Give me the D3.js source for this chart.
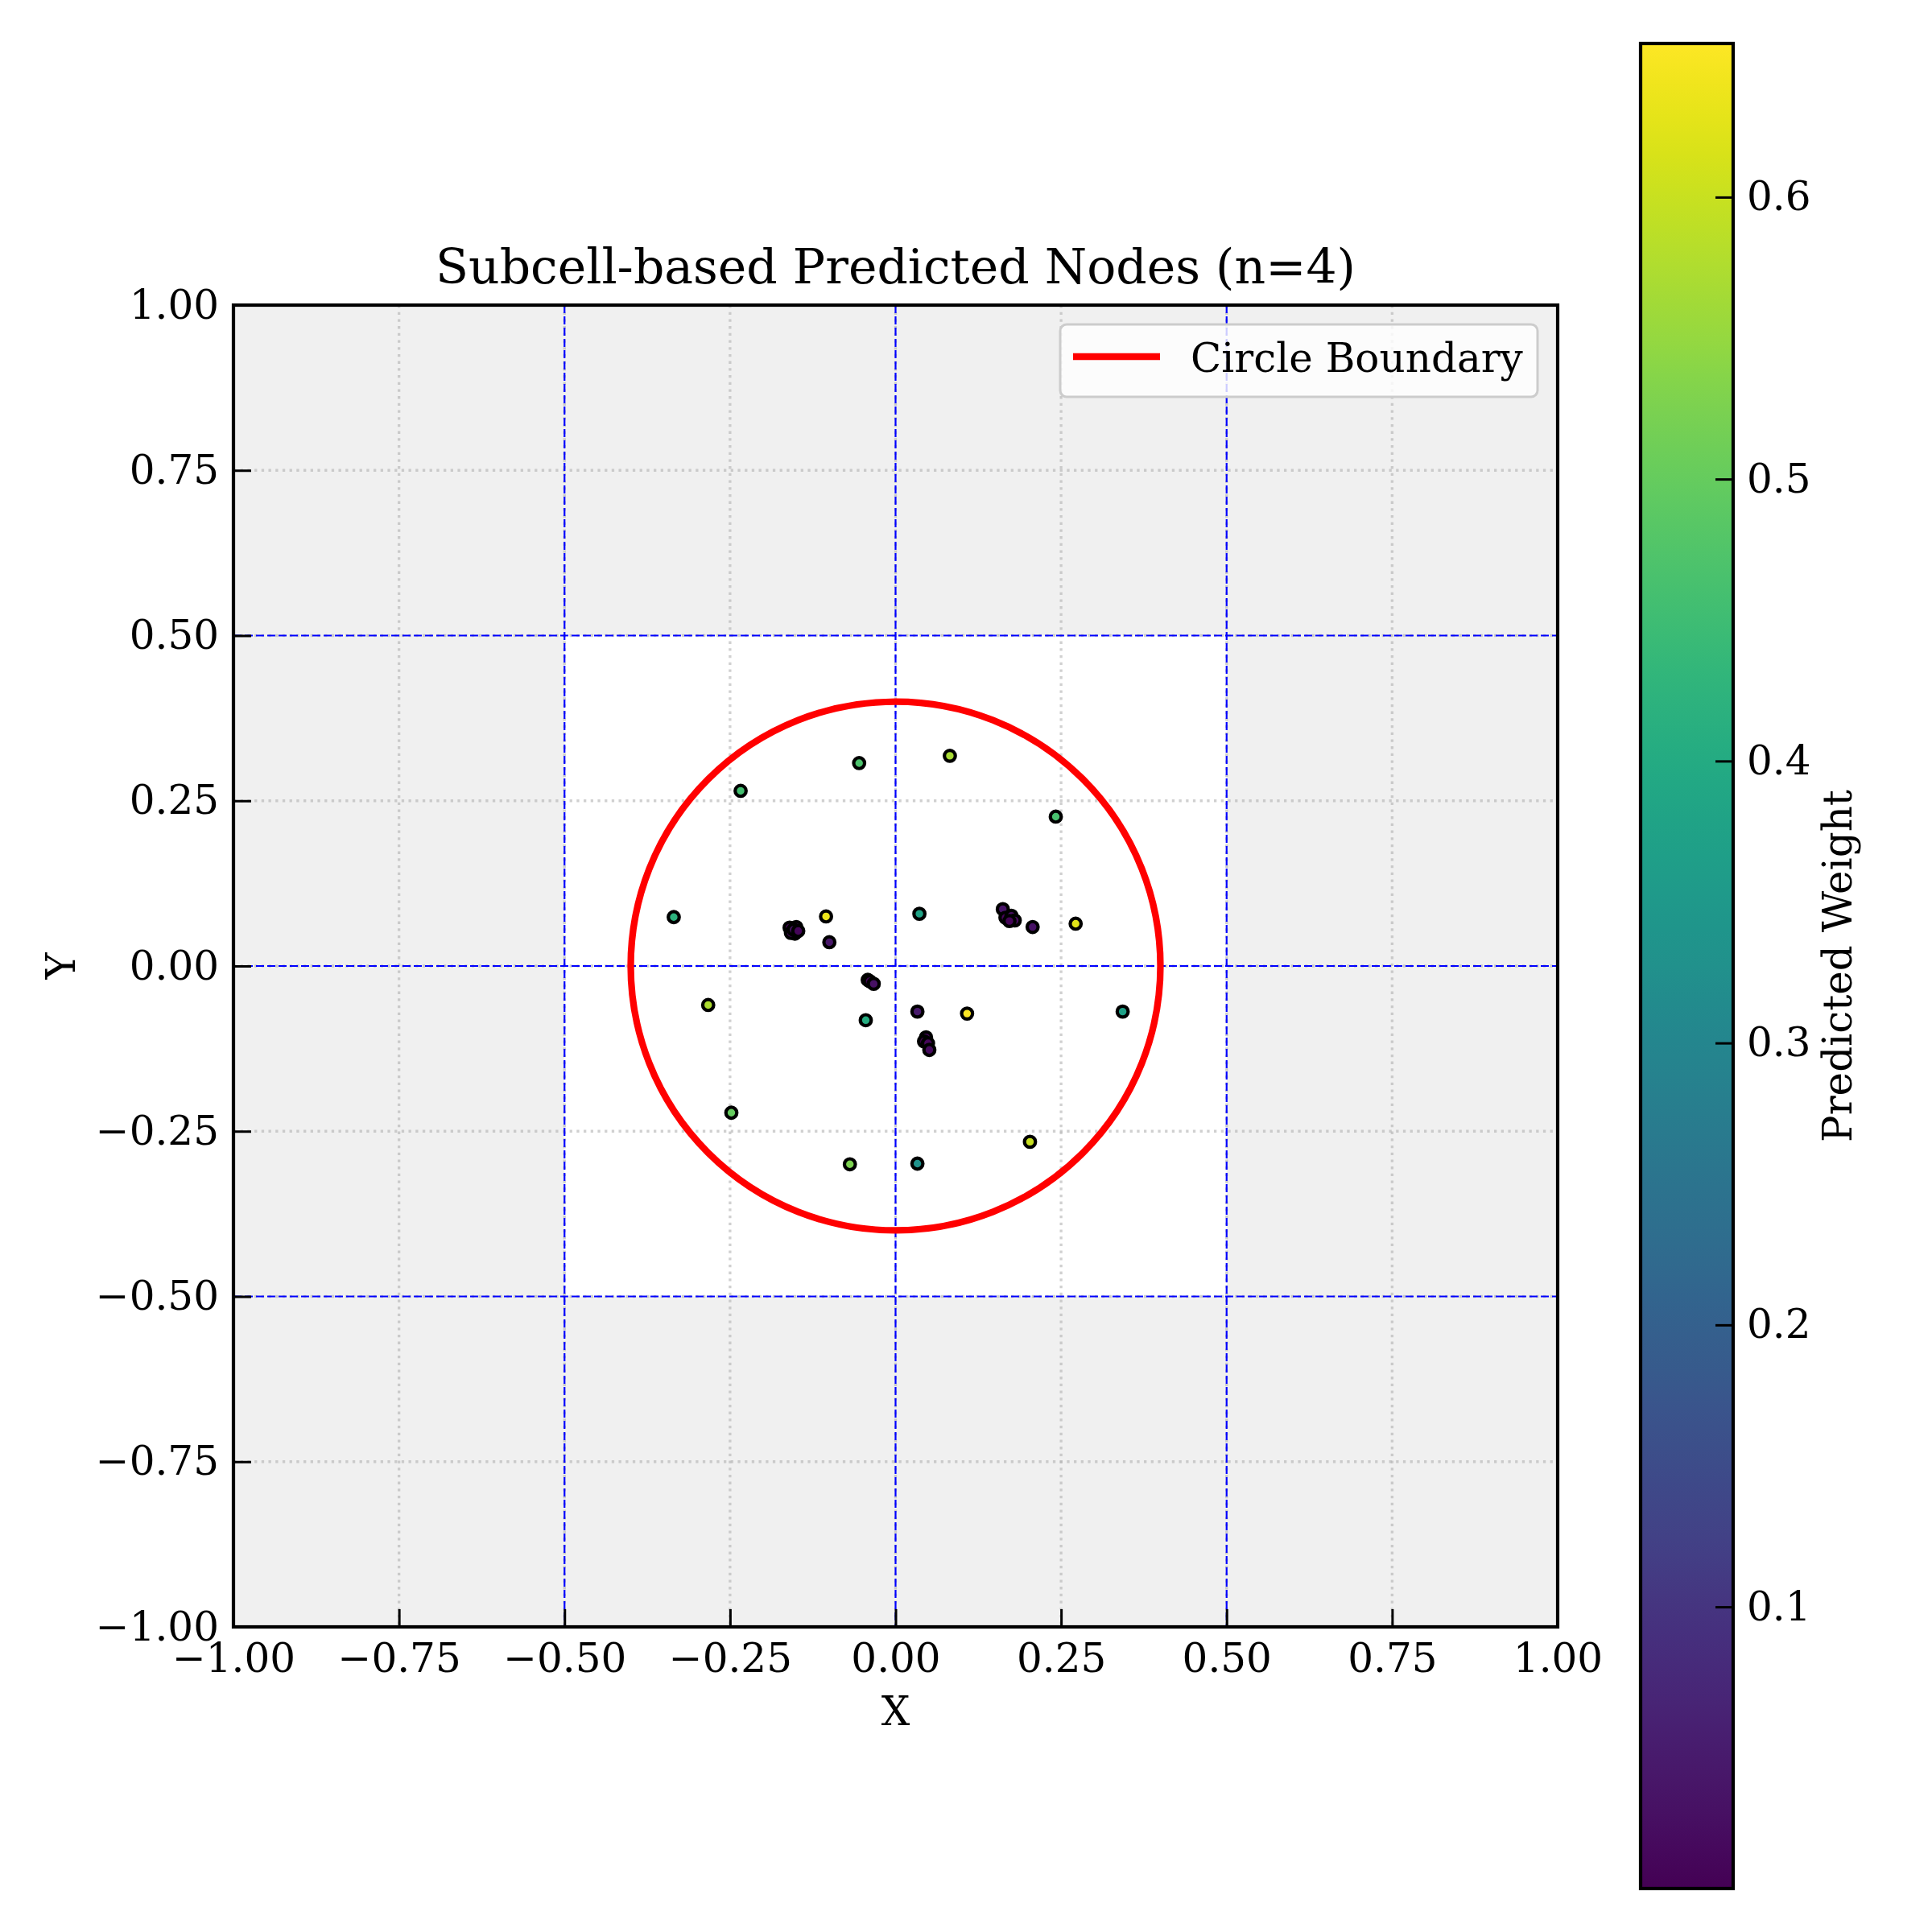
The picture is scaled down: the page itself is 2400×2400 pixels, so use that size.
<!DOCTYPE html>
<html>
<head>
<meta charset="utf-8">
<script src="https://cdn.jsdelivr.net/npm/d3@7"></script>
<style>
  body { margin: 0; background: #fff; }
  text { font-family: "DejaVu Serif", serif; fill: #000; }
</style>
</head>
<body>
<svg id="chart" width="2400" height="2400"></svg>
<script>
// data
const axisTicks = [-1, -0.75, -0.5, -0.25, 0, 0.25, 0.5, 0.75, 1];
const subcellLines = [-0.5, 0, 0.5];
const innerDomain = [-0.5, 0.5];
const cbarTicks = [0.1, 0.2, 0.3, 0.4, 0.5, 0.6];
const circleRadius = 0.4;

const nodeX = [
  -0.055, 0.082, -0.234, 0.242, -0.335, -0.105, 0.036, 0.272,
  -0.283, -0.045, 0.108, 0.343, -0.248, 0.203, -0.069, 0.033,
  -0.160, -0.150, -0.152, -0.158, -0.154, -0.147, -0.100,
  0.162, 0.166, 0.175, 0.180, 0.172, 0.207,
  -0.042, -0.039, -0.033, 0.033,
  0.046, 0.043, 0.049, 0.051
];
const nodeY = [
  0.307, 0.318, 0.265, 0.226, 0.074, 0.075, 0.079, 0.064,
  -0.059, -0.082, -0.072, -0.069, -0.222, -0.266, -0.300, -0.299,
  0.058, 0.059, 0.049, 0.050, 0.055, 0.053, 0.036,
  0.086, 0.073, 0.076, 0.069, 0.068, 0.059,
  -0.021, -0.023, -0.027, -0.069,
  -0.108, -0.114, -0.117, -0.127
];
const nodeWeight = [
  0.47, 0.57, 0.46, 0.465, 0.42, 0.635, 0.38, 0.625,
  0.575, 0.405, 0.6545, 0.375, 0.50, 0.60, 0.525, 0.33,
  0.012, 0.02, 0.008, 0.015, 0.03, 0.01, 0.04,
  0.035, 0.01, 0.025, 0.018, 0.006, 0.03,
  0.015, 0.005, 0.03, 0.045,
  0.01, 0.0001, 0.012, 0.02
];

const svg = d3.select("#chart");
svg.append("rect").attr("width", 2400).attr("height", 2400).attr("fill", "#fff");

const pLeft = 290, pRight = 1935, pTop = 379, pBottom = 2021;
const x = d3.scaleLinear().domain([-1, 1]).range([pLeft, pRight]);
const y = d3.scaleLinear().domain([-1, 1]).range([pBottom, pTop]);

const color = d3.scaleSequential(d3.interpolateViridis).domain(d3.extent(nodeWeight));

const defs = svg.append("defs");
defs.append("clipPath").attr("id", "plotclip")
  .append("rect").attr("x", pLeft).attr("y", pTop)
  .attr("width", pRight - pLeft).attr("height", pBottom - pTop);

const plot = svg.append("g").attr("clip-path", "url(#plotclip)");

// background + white inner domain
plot.append("rect")
  .attr("x", pLeft).attr("y", pTop)
  .attr("width", pRight - pLeft).attr("height", pBottom - pTop)
  .attr("fill", "#f0f0f0");
plot.append("rect")
  .attr("x", x(innerDomain[0])).attr("y", y(innerDomain[1]))
  .attr("width", x(innerDomain[1]) - x(innerDomain[0]))
  .attr("height", y(innerDomain[0]) - y(innerDomain[1]))
  .attr("fill", "#fff");

// dotted grid
const grid = plot.append("g")
  .attr("stroke", "#b0b0b0").attr("stroke-opacity", 0.6)
  .attr("stroke-width", 3.3).attr("stroke-dasharray", "3.3,5.4");
grid.selectAll(".gx").data(axisTicks).enter().append("line")
  .attr("x1", d => x(d)).attr("x2", d => x(d))
  .attr("y1", pTop).attr("y2", pBottom);
grid.selectAll(".gy").data(axisTicks).enter().append("line")
  .attr("y1", d => y(d)).attr("y2", d => y(d))
  .attr("x1", pLeft).attr("x2", pRight);

// subcell boundaries (blue dashed)
const sub = plot.append("g")
  .attr("stroke", "#0000ff").attr("stroke-width", 2.2)
  .attr("stroke-dasharray", "10,4");
sub.selectAll(".sx").data(subcellLines).enter().append("line")
  .attr("x1", d => x(d)).attr("x2", d => x(d))
  .attr("y1", pTop).attr("y2", pBottom);
sub.selectAll(".sy").data(subcellLines).enter().append("line")
  .attr("y1", d => y(d)).attr("y2", d => y(d))
  .attr("x1", pLeft).attr("x2", pRight);

// circle boundary
plot.append("ellipse")
  .attr("cx", x(0)).attr("cy", y(0))
  .attr("rx", x(circleRadius) - x(0))
  .attr("ry", y(0) - y(circleRadius))
  .attr("fill", "none").attr("stroke", "#ff0000").attr("stroke-width", 8.3);

// nodes
const nodes = nodeX.map((d, i) => ({ x: d, y: nodeY[i], w: nodeWeight[i] }));
plot.append("g").selectAll("circle").data(nodes).enter().append("circle")
  .attr("cx", d => x(d.x)).attr("cy", d => y(d.y))
  .attr("r", 6.8)
  .attr("fill", d => color(d.w))
  .attr("stroke", "#000").attr("stroke-width", 4.2);

// axes (ticks inside)
const fmt = d3.format(".2f");
const xAxis = svg.append("g").attr("transform", `translate(0,${pBottom})`)
  .call(d3.axisBottom(x).tickValues(axisTicks).tickFormat(fmt)
    .tickSizeInner(-22).tickSizeOuter(0).tickPadding(20));
const yAxis = svg.append("g").attr("transform", `translate(${pLeft},0)`)
  .call(d3.axisLeft(y).tickValues(axisTicks).tickFormat(fmt)
    .tickSizeInner(-22).tickSizeOuter(0).tickPadding(18));
[xAxis, yAxis].forEach(a => {
  a.select(".domain").remove();
  a.selectAll(".tick line").attr("stroke", "#000").attr("stroke-width", 3);
  a.selectAll(".tick text").attr("font-size", 50).attr("font-family", "DejaVu Serif");
});

// spines
svg.append("rect")
  .attr("x", pLeft).attr("y", pTop)
  .attr("width", pRight - pLeft).attr("height", pBottom - pTop)
  .attr("fill", "none").attr("stroke", "#000").attr("stroke-width", 4.2);

// title and labels
svg.append("text")
  .attr("x", (pLeft + pRight) / 2).attr("y", 352)
  .attr("text-anchor", "middle").attr("font-size", 60)
  .text("Subcell-based Predicted Nodes (n=4)");
svg.append("text")
  .attr("x", (pLeft + pRight) / 2).attr("y", 2143)
  .attr("text-anchor", "middle").attr("font-size", 50)
  .text("X");
svg.append("text")
  .attr("transform", `translate(93,${(pTop + pBottom) / 2}) rotate(-90)`)
  .attr("text-anchor", "middle").attr("font-size", 50)
  .text("Y");

// legend
const legend = svg.append("g");
legend.append("rect")
  .attr("x", 1317).attr("y", 403).attr("width", 593).attr("height", 90)
  .attr("rx", 8).attr("fill", "#fff").attr("fill-opacity", 0.8)
  .attr("stroke", "#cccccc").attr("stroke-width", 3);
legend.append("line")
  .attr("x1", 1333).attr("x2", 1441).attr("y1", 443).attr("y2", 443)
  .attr("stroke", "#ff0000").attr("stroke-width", 8.3);
legend.append("text")
  .attr("x", 1479).attr("y", 462).attr("font-size", 50)
  .text("Circle Boundary");

// colorbar
const cbLeft = 2038, cbRight = 2153, cbTop = 54, cbBottom = 2346;
const cy = d3.scaleLinear().domain(color.domain()).range([cbBottom, cbTop]);
const grad = defs.append("linearGradient")
  .attr("id", "cbgrad").attr("x1", 0).attr("x2", 0).attr("y1", 1).attr("y2", 0);
grad.selectAll("stop").data(d3.range(0, 1.0001, 0.02)).enter().append("stop")
  .attr("offset", d => d)
  .attr("stop-color", d => d3.interpolateViridis(d));
svg.append("rect")
  .attr("x", cbLeft).attr("y", cbTop)
  .attr("width", cbRight - cbLeft).attr("height", cbBottom - cbTop)
  .attr("fill", "url(#cbgrad)");
const cAxis = svg.append("g").attr("transform", `translate(${cbRight},0)`)
  .call(d3.axisRight(cy).tickValues(cbarTicks).tickFormat(d3.format(".1f"))
    .tickSizeInner(-22).tickSizeOuter(0).tickPadding(17));
cAxis.select(".domain").remove();
cAxis.selectAll(".tick line").attr("stroke", "#000").attr("stroke-width", 3);
cAxis.selectAll(".tick text").attr("font-size", 50).attr("font-family", "DejaVu Serif");
svg.append("rect")
  .attr("x", cbLeft).attr("y", cbTop)
  .attr("width", cbRight - cbLeft).attr("height", cbBottom - cbTop)
  .attr("fill", "none").attr("stroke", "#000").attr("stroke-width", 4.2);
svg.append("text")
  .attr("transform", `translate(2300,${(cbTop + cbBottom) / 2}) rotate(-90)`)
  .attr("text-anchor", "middle").attr("font-size", 50)
  .text("Predicted Weight");
</script>
</body>
</html>
